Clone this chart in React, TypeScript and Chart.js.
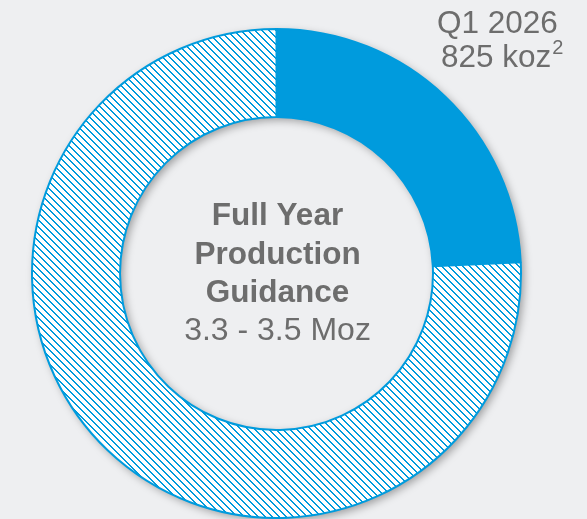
import React, { useEffect, useRef } from "react";
import { Chart, registerables } from "chart.js";

Chart.register(...registerables);

// ---- data ----
const segmentLabels = ["Q1 2026", "Remaining FY guidance"];
const segmentValues = [825, 2575];
const centerBold = ["Full Year", "Production", "Guidance"];
const centerRegular = "3.3 - 3.5 Moz";
const calloutLines = ["Q1 2026", "825 koz"];
const calloutSup = "2";

// ---- styles ----
const BLUE = "#009BDD";
const BG = "#EEEFF1";
const TEXT = "#6D6D6D";
const FONT = '"Liberation Sans", Arial, sans-serif';

function makeHatch(ctx: CanvasRenderingContext2D) {
  const n = 7;
  const c = document.createElement("canvas");
  c.width = n;
  c.height = n;
  const g = c.getContext("2d")!;
  g.fillStyle = "#ffffff";
  g.fillRect(0, 0, n, n);
  g.fillStyle = BLUE;
  for (let i = 0; i < n; i++) {
    g.fillRect(i % n, i, 1, 1);
    g.fillRect((i + 1) % n, i, 1, 1);
  }
  return ctx.createPattern(c, "repeat");
}

const ringShadow = {
  id: "ringShadow",
  beforeDatasetsDraw(chart: any) {
    const arc = chart.getDatasetMeta(0).data[0];
    if (!arc) return;
    const { x, y, outerRadius, innerRadius } = arc.getProps(
      ["x", "y", "outerRadius", "innerRadius"],
      true
    );
    const ctx = chart.ctx;
    ctx.save();
    ctx.shadowColor = "rgba(0,0,0,0.35)";
    ctx.shadowBlur = 9;
    ctx.shadowOffsetX = 3;
    ctx.shadowOffsetY = 3;
    ctx.beginPath();
    ctx.arc(x, y, outerRadius, 0, Math.PI * 2);
    ctx.arc(x, y, innerRadius, 0, Math.PI * 2, true);
    ctx.closePath();
    ctx.fillStyle = "#ffffff";
    ctx.fill();
    ctx.restore();
  },
};

const texts = {
  id: "texts",
  afterDraw(chart: any) {
    const ctx = chart.ctx as CanvasRenderingContext2D;
    const arc = chart.getDatasetMeta(0).data[0];
    const cx = arc ? arc.x : 277;
    ctx.save();
    ctx.fillStyle = TEXT;
    ctx.textBaseline = "alphabetic";
    ctx.textAlign = "center";
    const baselines = [225, 263.5, 302, 340];
    ctx.font = `bold 31.5px ${FONT}`;
    centerBold.forEach((t, i) => ctx.fillText(t, cx + 1, baselines[i]));
    ctx.font = `32px ${FONT}`;
    ctx.fillText(centerRegular, cx + 1, baselines[3]);

    // callout, top right
    ctx.textAlign = "left";
    ctx.font = `31.5px ${FONT}`;
    ctx.fillText(calloutLines[0], 437, 33);
    ctx.fillText(calloutLines[1], 441, 67);
    const w = ctx.measureText(calloutLines[1]).width;
    ctx.font = `20px ${FONT}`;
    ctx.fillText(calloutSup, 441 + w + 1, 54);
    ctx.restore();
  },
};

export default function App() {
  const ref = useRef<HTMLCanvasElement | null>(null);

  useEffect(() => {
    document.body.style.margin = "0";
    document.body.style.background = BG;
    const canvas = ref.current!;
    const ctx = canvas.getContext("2d")!;
    const hatch = makeHatch(ctx);
    const chart = new Chart(canvas, {
      type: "doughnut",
      data: {
        labels: segmentLabels,
        datasets: [
          {
            data: segmentValues,
            backgroundColor: [BLUE, hatch as any],
            borderColor: [BLUE, BLUE],
            borderWidth: 2,
            hoverOffset: 0,
          },
        ],
      },
      options: {
        responsive: false,
        animation: false,
        devicePixelRatio: 1,
        cutout: "64%",
        rotation: 0,
        layout: { padding: { left: 31, right: 65, top: 28, bottom: 0 } },
        plugins: {
          legend: { display: false },
          tooltip: { enabled: false },
        },
        events: [],
      },
      plugins: [ringShadow, texts],
    });
    return () => chart.destroy();
  }, []);

  return (
    <div
      style={{
        position: "fixed",
        left: 0,
        top: 0,
        width: 587,
        height: 519,
        background: BG,
      }}
    >
      <canvas ref={ref} width={587} height={519} style={{ display: "block" }} />
    </div>
  );
}
